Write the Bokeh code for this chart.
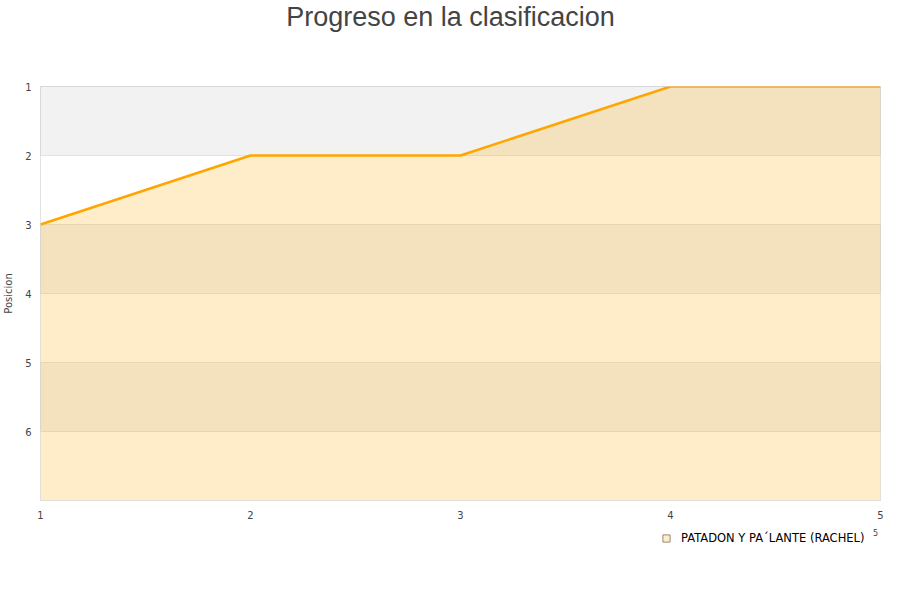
from bokeh.plotting import figure
from bokeh.layouts import column
from bokeh.models import Range1d, FixedTicker, Legend, LegendItem, Label
from bokeh.embed import file_html
from bokeh.resources import INLINE

jornadas = [1, 2, 3, 4, 5]
posiciones = [3, 2, 2, 1, 1]
equipo = "PATADON Y PA\u00b4LANTE (RACHEL)"
titulo = "Progreso en la clasificacion"
ticks_y = [1, 2, 3, 4, 5, 6]
ticks_x = [1, 2, 3, 4, 5]
fondo = 7

# header strip holding the title (its frame lines up with the chart's frame)
h = figure(width=884, height=40, output_backend="svg", toolbar_location=None,
           x_range=Range1d(0, 1), y_range=Range1d(0, 1),
           x_axis_type=None, y_axis_type=None, min_border=0)
h.outline_line_color = None
h.grid.visible = False
h.background_fill_color = "white"
h.add_layout(Label(x=410, y=24, x_units="screen", y_units="screen", text=titulo,
                   text_font="Liberation Sans", text_font_size="27px",
                   text_color="#444444", text_align="center", text_baseline="middle"))

p = figure(width=884, height=484, output_backend="svg", toolbar_location=None,
           x_range=Range1d(1, 5), y_range=Range1d(fondo, 1),
           min_border_left=40, min_border_right=4, min_border_bottom=24, min_border_top=46)

p.background_fill_color = "#f2f2f2"
p.border_fill_color = "white"
p.outline_line_color = "#d8d8d8"
p.outline_line_width = 1

p.xgrid.visible = False
p.ygrid.ticker = FixedTicker(ticks=ticks_y)
p.ygrid.grid_line_color = "#e2e2e2"
p.ygrid.band_fill_color = "white"
p.ygrid.band_fill_alpha = 1.0

p.yaxis.ticker = FixedTicker(ticks=ticks_y)
p.xaxis.ticker = FixedTicker(ticks=ticks_x)
for ax in (p.xaxis, p.yaxis):
    ax.axis_line_color = None
    ax.major_tick_line_color = None
    ax.minor_tick_line_color = None
    ax.major_tick_out = 0
    ax.major_label_text_font = "DejaVu Sans"
    ax.major_label_text_font_size = "10px"
    ax.major_label_text_color = "#444444"
p.yaxis.major_label_standoff = 9
p.xaxis.major_label_standoff = 10
p.yaxis.axis_label = "Posicion"
p.yaxis.axis_label_text_font = "DejaVu Sans"
p.yaxis.axis_label_text_font_size = "10px"
p.yaxis.axis_label_text_font_style = "normal"
p.yaxis.axis_label_text_color = "#444444"
p.yaxis.axis_label_standoff = 8

p.varea(x=jornadas, y1=posiciones, y2=[fondo] * len(jornadas),
        fill_color="#ffa500", fill_alpha=0.21)
p.line(x=jornadas, y=posiciones, line_color="#ffa500", line_width=2.5)

# lower strip holding the legend (its frame lines up with the chart's frame)
q = figure(width=884, height=60, output_backend="svg", toolbar_location=None,
           x_range=Range1d(0, 1), y_range=Range1d(0, 1),
           x_axis_type=None, y_axis_type=None, min_border=0)
q.outline_line_color = None
q.grid.visible = False
q.background_fill_color = "white"
marker = q.scatter(x=[float("nan")], y=[float("nan")], marker="square", size=12,
                   fill_color="#feecca", line_color="#9a8a70", line_width=1)
legend = Legend(items=[LegendItem(label=equipo, renderers=[marker])],
                location=(617, 37), orientation="horizontal",
                label_text_font="DejaVu Sans", label_text_font_size="11.5px",
                label_text_color="#000000", glyph_width=18, glyph_height=18,
                border_line_color=None, background_fill_alpha=0,
                margin=0, padding=2, spacing=4, label_standoff=6)
q.add_layout(legend, "center")
q.add_layout(Label(x=835, y=52, x_units="screen", y_units="screen", text="5",
                   text_font="DejaVu Sans", text_font_size="8px", text_color="#444444",
                   text_align="center", text_baseline="middle"))

layout = column(h, p, q, spacing=0)
open("out.html", "w").write(file_html(layout, INLINE))
